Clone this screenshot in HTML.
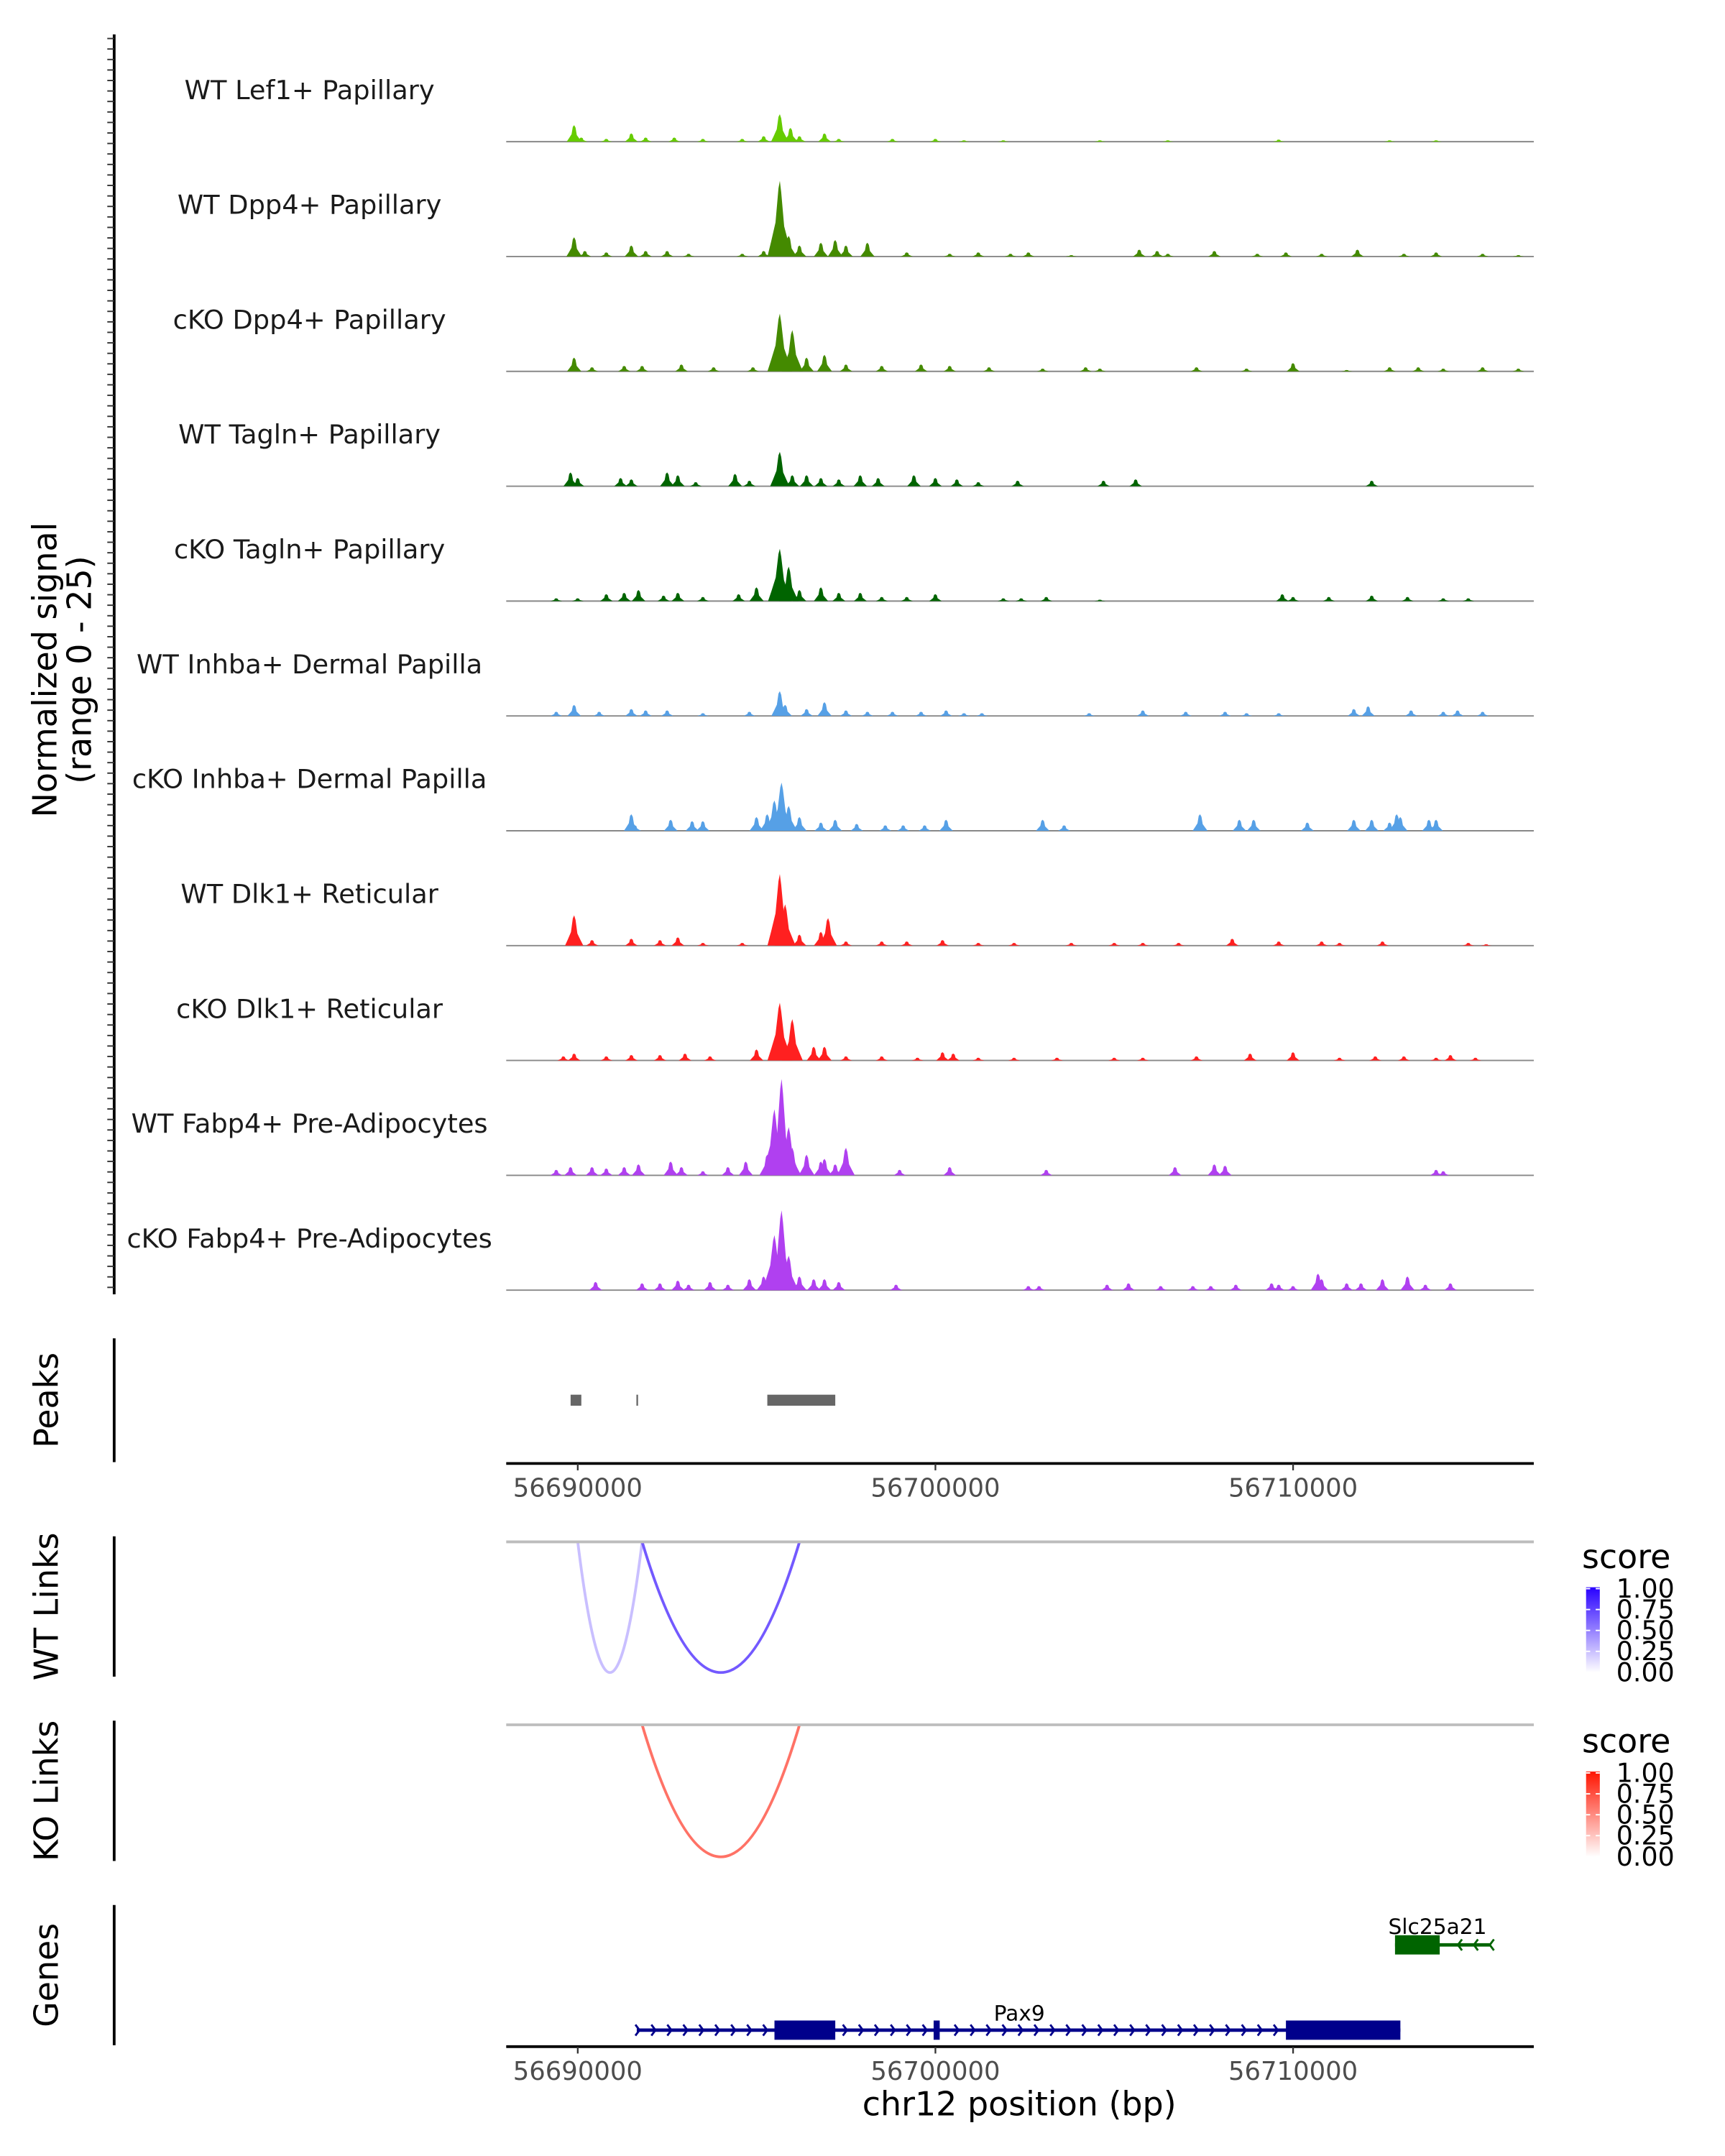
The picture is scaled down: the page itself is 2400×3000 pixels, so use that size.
<!DOCTYPE html>
<html><head><meta charset="utf-8"><style>
html,body{margin:0;padding:0;background:#fff}
svg{display:block;font-family:"DejaVu Sans","Liberation Sans",sans-serif}
</style></head><body>
<svg id="chart" width="2400" height="3000" viewBox="0 0 1254 1567.5" xmlns="http://www.w3.org/2000/svg">
<rect width="1254" height="1567.5" fill="#fff"/>
<g id="tracks"></g>
<g id="axes"></g>
</svg>
<script>
// ---- data (positions in kb offset from 56,690,000; values = normalized signal units) ----
const trackNames = ["WT Lef1+ Papillary","WT Dpp4+ Papillary","cKO Dpp4+ Papillary","WT Tagln+ Papillary","cKO Tagln+ Papillary","WT Inhba+ Dermal Papilla","cKO Inhba+ Dermal Papilla","WT Dlk1+ Reticular","cKO Dlk1+ Reticular","WT Fabp4+ Pre-Adipocytes","cKO Fabp4+ Pre-Adipocytes"];
const trackColors = ["#66cc00","#448a00","#448a00","#006400","#006400","#56a0e6","#56a0e6","#ff2020","#ff2020","#b040f0","#b040f0"];
const sig0 = [[-0.1,12],[0.1,3],[0.8,2],[1.5,6],[1.9,3],[2.7,3],[3.5,2],[4.6,2],[5.2,4],[5.65,20],[5.95,10],[6.2,4],[6.9,6],[7.3,2],[8.8,2],[10.0,2],[10.8,1],[11.9,1],[14.6,1],[16.5,1],[19.6,1.5],[22.7,1],[24.0,1]];
const sig1 = [[-0.1,14],[0.2,4],[0.8,3],[1.5,8],[1.9,4],[2.5,4],[3.1,2],[4.6,2],[5.2,4],[5.65,55],[5.9,15],[6.2,8],[6.8,10],[7.2,12],[7.5,8],[8.1,10],[9.2,3],[10.4,2],[11.2,3],[12.1,2],[12.6,3],[13.8,1],[15.7,5],[16.2,4],[16.5,2],[17.8,4],[19.0,2],[19.8,3],[20.8,2],[21.8,5],[23.1,2],[24.0,3],[25.3,2],[26.3,1]];
const sig2 = [[-0.1,10],[0.4,3],[1.3,4],[1.8,4],[2.9,5],[3.8,3],[4.9,3],[5.65,42],[6.0,30],[6.4,10],[6.9,12],[7.5,5],[8.5,4],[9.6,5],[10.4,4],[11.5,3],[13.0,2],[14.2,3],[14.6,2],[17.3,3],[18.7,2],[20.0,6],[21.5,1],[22.7,3],[23.5,3],[24.2,2],[25.3,3],[26.3,2]];
const sig3 = [[-0.2,10],[0,6],[1.2,6],[1.5,5],[2.5,10],[2.8,8],[3.3,3],[4.4,9],[4.8,4],[5.65,25],[6.0,8],[6.4,8],[6.8,6],[7.3,5],[7.9,8],[8.4,6],[9.4,8],[10.0,6],[10.6,5],[11.2,3],[12.3,4],[14.7,4],[15.6,5],[22.2,4]];
const sig4 = [[-0.6,2],[0,2],[0.8,5],[1.3,6],[1.7,8],[2.4,4],[2.8,6],[3.5,3],[4.5,5],[5.0,10],[5.65,38],[5.9,25],[6.2,8],[6.8,10],[7.3,6],[7.9,6],[8.5,3],[9.2,3],[10.0,5],[11.9,2],[12.4,2],[13.1,3],[14.6,1],[19.7,5],[20.0,3],[21.0,3],[22.2,4],[23.2,3],[24.2,2],[24.9,2]];
const sig5 = [[-0.6,3],[-0.1,8],[0.6,3],[1.5,5],[1.9,4],[2.5,4],[3.5,2],[4.8,3],[5.65,18],[5.8,8],[6.4,5],[6.9,10],[7.5,4],[8.1,3],[8.8,3],[9.6,3],[10.3,4],[10.8,2],[11.3,2],[14.3,2],[15.8,4],[17.0,3],[18.1,3],[18.7,2],[19.6,2],[21.7,5],[22.1,7],[23.3,4],[24.2,3],[24.6,4],[25.3,3]];
const sig6 = [[1.5,12],[1.6,4],[2.6,8],[3.2,7],[3.5,7],[5.0,10],[5.3,12],[5.5,22],[5.7,35],[5.9,18],[6.2,10],[6.8,6],[7.2,8],[7.8,5],[8.6,4],[9.1,4],[9.7,4],[10.3,8],[13.0,8],[13.6,4],[17.4,12],[18.5,8],[18.9,8],[20.4,6],[21.7,8],[22.2,8],[22.7,6],[22.9,12],[23.0,10],[23.8,8],[24.0,8]];
const sig7 = [[-0.1,22],[0.4,4],[1.5,5],[2.3,4],[2.8,6],[3.5,2],[4.6,2],[5.65,52],[5.8,30],[6.2,8],[6.8,10],[7.0,20],[7.5,3],[8.5,3],[9.2,3],[10.2,4],[11.2,2],[12.2,2],[13.8,2],[15.0,2],[15.8,2],[16.8,2],[18.3,5],[19.6,3],[20.8,3],[21.3,2],[22.5,3],[24.9,2],[25.4,1]];
const sig8 = [[-0.4,3],[-0.1,5],[0.8,3],[1.5,4],[2.3,4],[3.0,5],[3.7,3],[5.0,8],[5.65,42],[6.0,30],[6.6,10],[6.9,10],[7.5,3],[8.5,3],[9.5,2],[10.2,6],[10.5,5],[11.2,2],[12.2,2],[13.4,2],[15.0,2],[15.8,2],[17.3,3],[18.8,5],[20.0,6],[21.3,2],[22.3,3],[23.1,3],[24.0,2],[24.4,4],[25.1,2]];
const sig9 = [[-0.6,4],[-0.2,6],[0.4,6],[0.8,5],[1.3,6],[1.7,8],[2.6,10],[2.9,6],[3.5,3],[4.2,6],[4.7,10],[5.3,15],[5.5,48],[5.7,70],[5.9,35],[6.0,20],[6.4,15],[6.8,10],[6.9,12],[7.2,8],[7.5,20],[9.0,4],[10.4,6],[13.1,4],[16.7,6],[17.8,8],[18.1,7],[24.0,4],[24.2,3]];
const sig10 = [[0.5,6],[1.8,5],[2.3,5],[2.8,7],[3.1,4],[3.7,6],[4.2,4],[4.8,8],[5.2,10],[5.5,40],[5.7,58],[5.9,25],[6.2,10],[6.6,8],[6.9,8],[7.3,6],[8.9,4],[12.6,3],[12.9,3],[14.8,4],[15.4,5],[16.3,3],[17.2,3],[17.7,3],[18.4,4],[19.4,5],[19.6,4],[20.0,3],[20.7,12],[20.8,8],[21.5,5],[21.9,5],[22.5,8],[23.2,10],[23.7,4],[24.4,5]];
const signals = [sig0,sig1,sig2,sig3,sig4,sig5,sig6,sig7,sig8,sig9,sig10];
const xTicks = [56690000,56700000,56710000];
const peaks = [[56689800,56690100],[56691640,56691680],[56695300,56697200]];
const wtLinks = [[56690000,56691800,0.25],[56691800,56696200,0.65]];
const koLinks = [[56691800,56696200,0.6]];
const pax9Exons = [[56695500,56697200],[56699950,56700120],[56709800,56713000]];
const pax9Span = [56691650,56713000];
const slcExons = [[56712850,56714100]];
const slcSpan = [56712850,56715500];
const legendTicks = ["1.00","0.75","0.50","0.25","0.00"];

// ---- scales ----
const X0 = 368, X1 = 1115, DOM0 = 56688000, DOM1 = 56716730;
const xs = bp => X0 + (bp - DOM0) / (DOM1 - DOM0) * (X1 - X0);
const xk = kb => xs(56690000 + kb * 1000);
const ySig = v => v / 80 * 80;
const NS = "http://www.w3.org/2000/svg";
function mk(tag, attrs, parent, text){const e=document.createElementNS(NS,tag);for(const k in attrs)e.setAttribute(k,attrs[k]);if(text!==undefined)e.textContent=text;parent.appendChild(e);return e;}
const tracks = document.getElementById('tracks');
const axes = document.getElementById('axes');

// ---- coverage tracks ----
const base0 = 103, step = 83.5;
trackNames.forEach((name,i)=>{
  const b = base0 + i*step;
  const g = mk('g',{},tracks);
  
  
  const t = mk('text',{x:225,y:b-31,'text-anchor':'middle','font-size':19.2,fill:'#1a1a1a'},g,name);
  
  
  const ln = mk('line',{x1:X0,x2:X1,y1:b,y2:b,stroke:'#888','stroke-width':1},g);
  
  
  signals[i].forEach(([kb,v])=>{
    const x = xk(kb), h = ySig(v), w = Math.min(9, 4 + h*0.12);
    const p = mk('polygon',{points:`${x-w},${b} ${x-w*0.7},${b-h*0.2} ${x-w*0.35},${b-h*0.45} ${x-1},${b-h*0.9} ${x},${b-h} ${x+1},${b-h*0.85} ${x+w*0.35},${b-h*0.4} ${x+w*0.7},${b-h*0.18} ${x+w},${b}`,fill:trackColors[i]},g);
    
    
  });
});
// left signal axis
const ya = mk('line',{x1:83,x2:83,y1:25,y2:941,stroke:'#000','stroke-width':2},axes);


for(let y=28;y<=940;y+=7.63){
  const tk = mk('line',{x1:78,x2:83,y1:y,y2:y,stroke:'#333','stroke-width':1},axes);
  
  
}
const yt = mk('text',{transform:'translate(41,487) rotate(-90)','text-anchor':'middle','font-size':24,fill:'#000'},axes);


mk('tspan',{x:0,dy:0},yt,'Normalized signal');
mk('tspan',{x:0,dy:25},yt,'(range 0 - 25)');

function sideLabel(txt,cy,name){const t=mk('text',{transform:`translate(42,${cy}) rotate(-90)`,'text-anchor':'middle','font-size':24,fill:'#000'},axes,txt);}
function vline(y1,y2,name){const l=mk('line',{x1:83,x2:83,y1:y1,y2:y2,stroke:'#000','stroke-width':2},axes);}
function xAxis(y,name){
  const l=mk('line',{x1:X0,x2:X1,y1:y,y2:y,stroke:'#000','stroke-width':2},axes);
  
  
  xTicks.forEach(v=>{
    const tk=mk('line',{x1:xs(v),x2:xs(v),y1:y,y2:y+5,stroke:'#333','stroke-width':1.2},axes);
    
    
    const tl=mk('text',{x:xs(v),y:y+24,'text-anchor':'middle','font-size':18.5,fill:'#4d4d4d'},axes,String(v));
    
    
  });
}
// peaks
sideLabel('Peaks',1018,'peaks-label'); vline(973,1063,'peaks-axis');
peaks.forEach(([s,e])=>{const r=mk('rect',{x:xs(s),y:1014,width:Math.max(1.2,xs(e)-xs(s)),height:8,fill:'#666'},tracks);});
xAxis(1064,'peaks-x-axis');

// links
const mix=(c,s)=>{return c.map(v=>Math.round(255+(v-255)*s));};
function linkPanel(links,base,bottom,rgb,label,cy,ax1,ax2,gid,prefix){
  sideLabel(label,cy,prefix+'-label'); vline(ax1,ax2,prefix+'-axis');
  const bl=mk('line',{x1:X0,x2:X1,y1:base,y2:base,stroke:'#bdbdbd','stroke-width':2},axes);
  
  
  links.forEach(([s,e,sc])=>{
    const a=xs(s),b=xs(e),c=mix(rgb,sc);
    const p=mk('path',{d:`M${a},${base} Q${(a+b)/2},${2*bottom-base} ${b},${base}`,fill:'none',stroke:`rgb(${c})`,'stroke-width':2},tracks);
    
    
  });
  // legend
  const lg=mk('g',{},axes);
  
  
  const st=ax1+23;
  mk('text',{x:1150,y:st,'font-size':24,fill:'#000'},lg,'score');
  const gr=mk('linearGradient',{id:gid,x1:0,y1:0,x2:0,y2:1},lg);
  mk('stop',{offset:'0','stop-color':`rgb(${rgb})`},gr);
  mk('stop',{offset:'1','stop-color':'#ffffff'},gr);
  const by=st+14;
  mk('rect',{x:1153,y:by,width:10,height:62,fill:`url(#${gid})`},lg);
  legendTicks.forEach((t,i)=>{
    const yy=by+1+i*15.2;
    mk('line',{x1:1153,x2:1156,y1:yy,y2:yy,stroke:'#fff'},lg);
    mk('line',{x1:1160,x2:1163,y1:yy,y2:yy,stroke:'#fff'},lg);
    mk('text',{x:1175,y:yy+6.5,'font-size':19,fill:'#000'},lg,t);
  });
}
linkPanel(wtLinks,1121,1216,[40,0,255],'WT Links',1168,1117,1219,'gBlue','wt-links');
linkPanel(koLinks,1254,1350,[255,20,0],'KO Links',1302,1251,1353,'gRed','ko-links');

// genes
sideLabel('Genes',1436,'genes-label'); vline(1385,1487,'genes-axis');
function gene(span,exons,y,color,dir,label,lx,ly,name){
  const g=mk('g',{},tracks);
  
  
  mk('line',{x1:xs(span[0]),x2:xs(span[1]),y1:y,y2:y,stroke:color,'stroke-width':2.5},g);
  const ex=exons.map(([s,e])=>[xs(s),xs(e)]);
  const a0 = dir>0?xs(span[0]):xs(span[1])-2, a1 = dir>0?xs(span[1]):xs(span[0]);
  for(let x=a0+2; dir>0? x<a1 : x>a1; x+=dir*11.6){
    if(ex.some(([s,e])=>x>s-2&&x<e+3))continue;
    mk('polyline',{points:`${x-dir*3},${y-4} ${x},${y} ${x-dir*3},${y+4}`,fill:'none',stroke:color,'stroke-width':1.5},g);
  }
  ex.forEach(([s,e])=>mk('rect',{x:s,y:y-7,width:Math.max(2,e-s),height:14,fill:color},g));
  mk('text',{x:lx,y:ly,'text-anchor':'middle','font-size':15.5,fill:'#000'},g,label);
}
gene(pax9Span,pax9Exons,1476,'#00008b',1,'Pax9',741,1469,'pax9-gene');
gene(slcSpan,slcExons,1414,'#006400',-1,'Slc25a21',1045,1406,'slc25a21-gene');
xAxis(1488,'genes-x-axis');
const xt=mk('text',{x:741,y:1538,'text-anchor':'middle','font-size':24,fill:'#000'},axes,'chr12 position (bp)');


</script>
</body></html>
